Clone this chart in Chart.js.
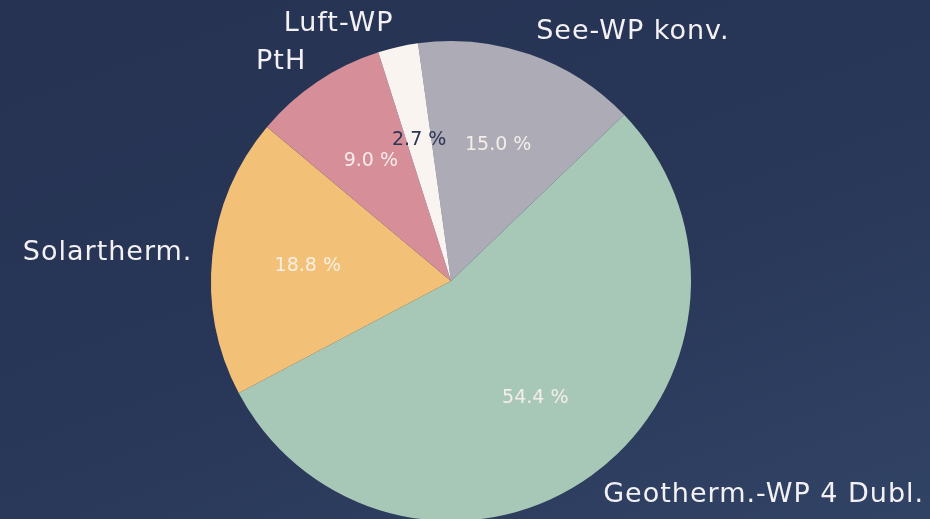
<!DOCTYPE html>
<html>
<head>
<meta charset="utf-8">
<script src="https://cdn.jsdelivr.net/npm/chart.js@4.4.1/dist/chart.umd.min.js"></script>
<style>
  html,body{margin:0;padding:0;overflow:hidden}
  body{width:930px;height:519px;background:linear-gradient(160deg,#263353 0%,#283657 50%,#314365 100%)}
  #wrap{position:absolute;left:0;top:0;width:930px;height:530px}
</style>
</head>
<body>
<div id="wrap"><canvas id="c"></canvas></div>
<script>
// ============ DATA ============
const labels = ['See-WP konv.', 'Geotherm.-WP 4 Dubl.', 'Solartherm.', 'PtH', 'Luft-WP'];
const shares = [15.0, 54.4, 18.8, 9.0, 2.7];
const colors = ['#adabb5', '#a7c8b6', '#f2c177', '#d68e99', '#faf4f1'];
const pctColors = ['#f4eee9', '#f4eee9', '#f8efe2', '#f6ecec', '#2b3554'];

// draws category names outside, percentages inside
const sliceLabels = {
  id: 'sliceLabels',
  afterDatasetsDraw(chart) {
    const ctx = chart.ctx;
    const meta = chart.getDatasetMeta(0);
    ctx.save();
    meta.data.forEach((arc, i) => {
      const mid = (arc.startAngle + arc.endAngle) / 2;
      const R = arc.outerRadius;
      // percentage
      ctx.letterSpacing = '0px';
      ctx.font = '19px "DejaVu Sans", sans-serif';
      ctx.fillStyle = pctColors[i];
      ctx.textAlign = 'center';
      ctx.textBaseline = 'middle';
      const pr = R * 0.6;
      ctx.fillText(shares[i].toFixed(1) + ' %', arc.x + Math.cos(mid) * pr, arc.y + Math.sin(mid) * pr);
      // name
      const lr = R + 20;
      const lx = arc.x + Math.cos(mid) * lr;
      const ly = arc.y + Math.sin(mid) * lr;
      ctx.letterSpacing = '1px';
      ctx.font = '27px "DejaVu Sans", sans-serif';
      ctx.fillStyle = '#f3f1f4';
      ctx.textAlign = lx > arc.x ? 'left' : 'right';
      ctx.fillText(labels[i], lx, ly + 4 * Math.sin(mid));
    });
    ctx.restore();
  }
};

new Chart(document.getElementById('c'), {
  type: 'pie',
  data: {
    labels: labels,
    datasets: [{ data: shares, backgroundColor: colors, borderWidth: 0 }]
  },
  options: {
    responsive: true,
    maintainAspectRatio: false,
    animation: false,
    rotation: -7.9,
    layout: { padding: { left: 211, right: 239, top: 41, bottom: 9 } },
    plugins: { legend: { display: false }, tooltip: { enabled: false } }
  },
  plugins: [sliceLabels]
});
</script>
</body>
</html>
